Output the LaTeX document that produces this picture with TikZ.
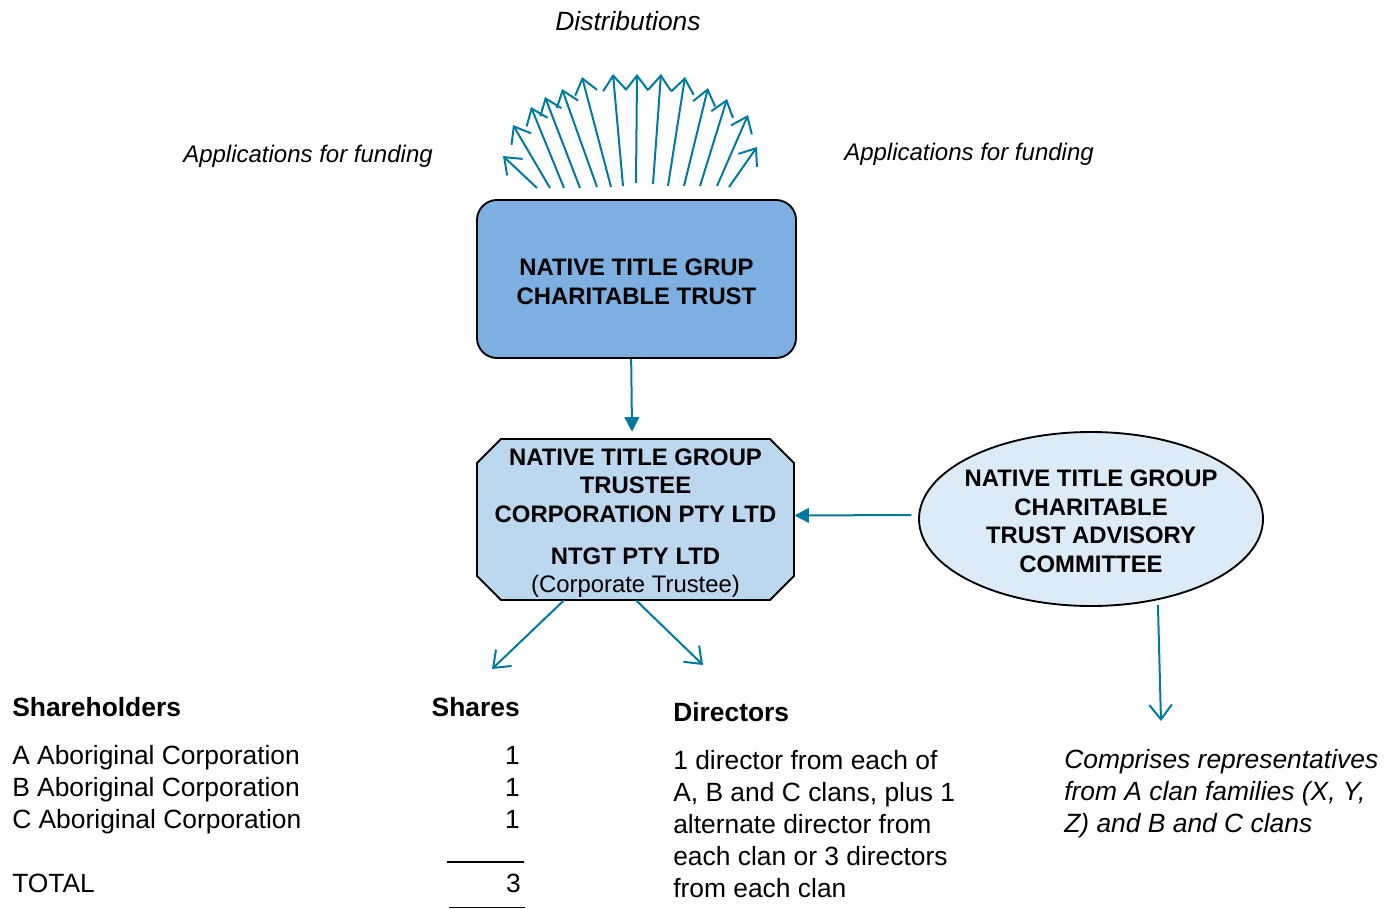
\documentclass[tikz,border=0pt]{standalone}
\usepackage{fontspec}
\setmainfont{Liberation Sans}
\usetikzlibrary{arrows.meta,shapes.geometric}
\definecolor{arr}{RGB}{0,122,158}
\definecolor{trustfill}{RGB}{125,176,224}
\definecolor{octfill}{RGB}{189,215,238}
\definecolor{ellfill}{RGB}{221,235,247}
\begin{document}
\begin{tikzpicture}[x=0.75pt,y=-0.75pt,
  txt/.style={font=\fontsize{19.8}{24}\selectfont, inner sep=0pt, anchor=base west},
  itxt/.style={font=\fontsize{19.8}{24}\selectfont\itshape, inner sep=0pt},
  atxt/.style={font=\fontsize{18}{22}\selectfont\itshape, inner sep=0pt, anchor=base west},
  btxt/.style={font=\fontsize{19.8}{24}\selectfont\bfseries, inner sep=0pt, anchor=base west},
  boxtxt/.style={font=\fontsize{17.9}{21.4}\selectfont\bfseries, align=center, inner sep=0pt},
  openarr/.style={draw=arr, line width=1.5pt, -{Straight Barb[length=11pt,width=17pt]}},
  filarr/.style={draw=arr, line width=1.5pt, -{Triangle[length=11pt,width=11pt]}},
  border/.style={draw=black, line width=1.4pt}]
\useasboundingbox (0,0) rectangle (1392,909);

% top labels
\node[itxt, anchor=base] (dist) at (628,30.5) {Distributions};
\node[atxt] (appl) at (183,162.5) {Applications for funding};
\node[atxt] (appr) at (844,160.5) {Applications for funding};

% fan of distribution arrows
\foreach \i/\sx/\sy/\ex/\ey in {1/537/188/503/156, 2/550/188/513/125, 3/564/188/531/107, 4/580/188/545/97, 5/597/187/562/89, 6/611/187/582/77, 7/623/186/613/74, 8/636/183/637/74, 9/653/184/661/74, 10/668/186/685/77, 11/684/186/708/88, 12/700/186/727/99, 13/717/186/748/115, 14/729/187/757/147}{
  \coordinate (fs\i) at (\sx,\sy);
  \coordinate (fe\i) at (\ex,\ey);
  \draw[openarr] (fs\i) -- (fe\i);
}

% charitable trust
\node[border, fill=trustfill, rounded corners=15pt, minimum width=239.25pt, minimum height=118.5pt, boxtxt] (trust) at (636.5,279)
  {\rule{0pt}{17pt}NATIVE TITLE GRUP\\CHARITABLE TRUST};

% corporate trustee (octagon)
\filldraw[border, fill=octfill] (477,463) -- (501,439) -- (770,439) -- (794,463) -- (794,576) -- (770,600) -- (501,600) -- (477,576) -- cycle;
\node[minimum width=237.75pt, minimum height=120.75pt, boxtxt] (oct) at (635.5,519.5) {};
\node[boxtxt] (octtxt) at (635.5,523)
  {NATIVE TITLE GROUP\\TRUSTEE\\CORPORATION PTY LTD\\[10pt]NTGT PTY LTD\\{\mdseries (Corporate Trustee)}};

% advisory committee
\node[border, fill=ellfill, ellipse, minimum width=258pt, minimum height=130.5pt, inner sep=0pt] (ell) at (1091,519) {};
\node[boxtxt] (elltxt) at (1091,521.5) {NATIVE TITLE GROUP\\CHARITABLE\\TRUST ADVISORY\\COMMITTEE};

% connectors
\draw[filarr] ([xshift=-4pt]trust.south) -- ([xshift=-2.6pt,yshift=5.2pt]oct.north);
\draw[filarr] ([xshift=-5pt,yshift=3pt]ell.west) -- ([yshift=3pt]oct.east);
\coordinate (shEnd) at (492,669);
\coordinate (dirEnd) at (703,665);
\coordinate (commEnd) at (1161,721);
\draw[openarr] ([xshift=-53.6pt]oct.south) -- (shEnd);
\draw[openarr] ([xshift=0.4pt]oct.south) -- (dirEnd);
\draw[openarr] ([xshift=50.2pt,yshift=1.5pt]ell.south) -- (commEnd);

% shareholders table
\node[btxt] (shh) at (12,716.5) {Shareholders};
\node[btxt, anchor=base east] (shs) at (520,716.5) {Shares};
\node[txt] (sa) at (12,764.5) {A Aboriginal Corporation};
\node[txt] (sb) at (12,796.5) {B Aboriginal Corporation};
\node[txt] (sc) at (12,828.5) {C Aboriginal Corporation};
\node[txt, anchor=base east] (na) at (520,764.5) {1};
\node[txt, anchor=base east] (nb) at (520,796.5) {1};
\node[txt, anchor=base east] (nc) at (520,828.5) {1};
\draw[line width=1.2pt] (447,862) -- (524,862);
\node[txt] (tot) at (12,892.5) {TOTAL};
\node[txt, anchor=base east] (ntot) at (521,892.5) {3};
\draw[line width=1.2pt] (449,907.5) -- (525,907.5);

% directors
\node[btxt] (dirh) at (673,721.5) {Directors};
\node[txt] (d1) at (673,769.5) {1 director from each of};
\node[txt] (d2) at (673,801.5) {A, B and C clans, plus 1};
\node[txt] (d3) at (673,833.5) {alternate director from};
\node[txt] (d4) at (673,865.5) {each clan or 3 directors};
\node[txt] (d5) at (673,897.5) {from each clan};

% committee description
\node[itxt, anchor=base west] (c1) at (1064,768.5) {Comprises representatives};
\node[itxt, anchor=base west] (c2) at (1064,800.5) {from A clan families (X, Y,};
\node[itxt, anchor=base west] (c3) at (1064,832.5) {Z) and B and C clans};
\end{tikzpicture}
\end{document}
